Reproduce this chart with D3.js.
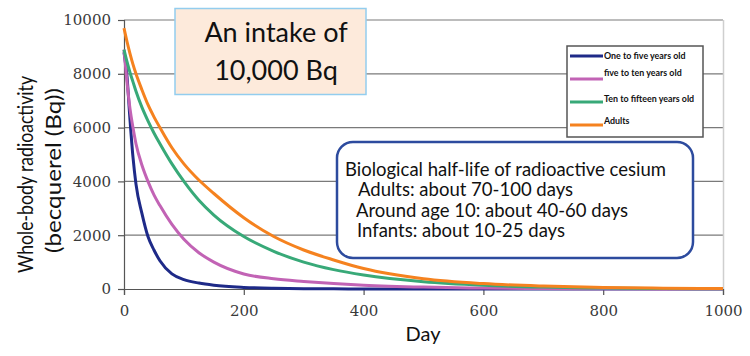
<!DOCTYPE html>
<html><head><meta charset="utf-8">
<script src="https://cdn.jsdelivr.net/npm/d3@7"></script>
<style>body{margin:0;background:#fff}svg{display:block}</style>
</head><body>
<svg id="c" width="750" height="356"></svg>
<script>
// ---- data ----
const days = [0,5,10,15,20,30,40,50,60,80,100,125,150,200,250,300,350,400,500,600,700,800,900,1000];
const seriesNames = ["One to five years old","five to ten years old","Ten to fifteen years old","Adults"];
const oneToFive   = [8800,7900,6300,4900,3900,2800,1950,1450,1050,560,350,220,140,60,25,10,5,2,0,0,0,0,0,0];
const fiveToTen   = [8900,7700,6700,6000,5400,4600,4000,3500,3100,2400,1850,1350,1000,560,380,280,200,140,70,35,15,8,4,2];
const tenToFifteen= [8900,8450,8050,7700,7350,6750,6250,5800,5400,4650,4000,3300,2750,1950,1400,1000,720,520,270,140,70,35,15,8];
const adults      = [9700,9200,8750,8350,8000,7400,6850,6400,6000,5250,4650,4050,3550,2650,1950,1450,1080,760,380,200,110,60,30,15];
const xTicks = [0,200,400,600,800,1000];
const yTicks = [0,2000,4000,6000,8000,10000];
const colors = ["#1e2a88","#c263b5","#38a978","#f5821f"];
const intakeLines = ["An intake of","10,000 Bq"];
const halfLifeLines = ["Biological half-life of radioactive cesium","Adults: about 70-100 days","Around age 10: about 40-60 days","Infants: about 10-25 days"];
const yTitle = ["Whole-body radioactivity","(becquerel (Bq))"];
const xTitle = "Day";

const values = [oneToFive, fiveToTen, tenToFifteen, adults];
const svg = d3.select("#c");
const L=124, R=723, T=20, B=289;
const x = d3.scaleLinear().domain([0,1000]).range([L,R]);
const y = d3.scaleLinear().domain([0,10000]).range([B,T]);

// gridlines
svg.append("g").selectAll("line").data(yTicks.filter(d=>d>0)).join("line")
  .attr("x1",L).attr("x2",R).attr("y1",d=>y(d)).attr("y2",d=>y(d))
  .attr("stroke","#7a7a7a").attr("stroke-width",1.2);
// right border
svg.append("line").attr("x1",R+0.5).attr("x2",R+0.5).attr("y1",T).attr("y2",B).attr("stroke","#cfcfcf").attr("stroke-width",1.5);

// axes
const ya = svg.append("g").attr("transform",`translate(${L},0)`)
  .call(d3.axisLeft(y).tickValues(yTicks).tickSize(6).tickFormat(d3.format("d")));
const xa = svg.append("g").attr("transform",`translate(0,${B})`)
  .call(d3.axisBottom(x).tickValues(xTicks).tickSize(6).tickFormat(d3.format("d")));
[ya,xa].forEach(g=>{
  g.attr("font-family",null);
  g.select(".domain").attr("stroke","#555").attr("stroke-width",1.2);
  g.selectAll(".tick line").attr("stroke","#555").attr("stroke-width",1.2);
  g.selectAll(".tick text").style("font-family","'DejaVu Serif',serif")
    .style("font-size","15px").attr("fill","#3a3a3a");
});
ya.selectAll(".tick text").attr("x",-13);
xa.selectAll(".tick text").attr("y",16);

// curves
const line = d3.line().x((d,i)=>x(days[i])).y(d=>y(d)).curve(d3.curveMonotoneX);
svg.append("g").selectAll("path").data(values).join("path")
  .attr("d",d=>line(d)).attr("fill","none").attr("stroke",(d,i)=>colors[i]).attr("stroke-width",3);

// intake box
svg.append("rect").attr("x",175).attr("y",8.5).attr("width",191).attr("height",86)
  .attr("fill","#fdeadb").attr("stroke","#93cdee").attr("stroke-width",1.5);
svg.append("g").selectAll("text").data(intakeLines).join("text")
  .attr("x",276).attr("y",(d,i)=>42+i*38).attr("text-anchor","middle")
  .style("font-family","Lato").style("font-size","27px").attr("fill","#111").text(d=>d);

// legend
svg.append("rect").attr("x",567).attr("y",46).attr("width",136).attr("height",91)
  .attr("fill","#fff").attr("stroke","#555").attr("stroke-width",1.5);
const textOff = [3,-3,0,-1];
const lg = svg.append("g").selectAll("g").data(seriesNames).join("g")
  .attr("transform",(d,i)=>`translate(570,${56+i*23})`);
lg.append("line").attr("x1",0).attr("x2",33).attr("stroke",(d,i)=>colors[i]).attr("stroke-width",3);
lg.append("text").attr("x",34).attr("y",(d,i)=>textOff[i]).style("font-family","Lato").style("font-weight",700)
  .style("font-size","8.9px").attr("fill","#111").text(d=>d);

// half-life box
svg.append("rect").attr("x",337).attr("y",142).attr("width",356).attr("height",116).attr("rx",16)
  .attr("fill","#fff").attr("stroke","#2d4b9e").attr("stroke-width",2.5);
const hlX = [345,358,356,357];
const hlY = [176,196,217,237];
svg.append("g").selectAll("text").data(halfLifeLines).join("text")
  .attr("x",(d,i)=>hlX[i]).attr("y",(d,i)=>hlY[i])
  .style("font-family","Lato").style("font-size","18.5px").attr("fill","#111").text(d=>d);

// titles
const ytLen = [197,165];
const ytPos = [[33,174.5],[61,170.5]];
svg.append("g").selectAll("text").data(yTitle).join("text")
  .attr("transform",(d,i)=>`translate(${ytPos[i][0]},${ytPos[i][1]}) rotate(-90)`).attr("text-anchor","middle")
  .attr("textLength",(d,i)=>ytLen[i]).attr("lengthAdjust","spacingAndGlyphs")
  .style("font-family","Lato").style("font-size","22px").attr("fill","#111").text(d=>d);
svg.append("text").attr("x",423).attr("y",341).attr("text-anchor","middle")
  .style("font-family","Lato").style("font-size","20px").attr("fill","#111").text(xTitle);
</script>
</body></html>
